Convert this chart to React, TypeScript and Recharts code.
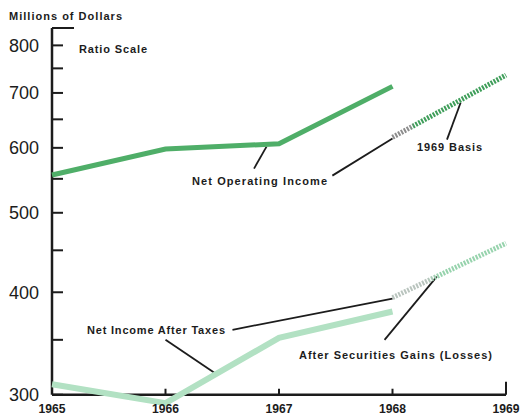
import { LineChart, Line, XAxis, YAxis, ReferenceLine } from 'recharts';

const WIDTH = 520;
const HEIGHT = 418;
const MARGIN = { top: 28, right: 14, bottom: 0, left: 0 };
const X_AXIS_HEIGHT = 5;

// ratio scale: 300 sits on the baseline, a little room below it for the 1966 dip
const Y_LOW = 285;
const Y_BASE = 300;
const Y_TOP = 840;

const years = [1965, 1966, 1967, 1968, 1969];
const netOperatingIncome = [556, 598, 607, 713, null];
const operatingIncome1969Basis = [null, null, null, 618, 736];
const netIncomeAfterTaxes = [309, 293, 352, 379, null];
const afterSecuritiesGains = [null, null, null, 394, 459];

const yTicks = [300, 350, 400, 450, 500, 550, 600, 650, 700, 750, 800, 840];
const yLabels = [300, 400, 500, 600, 700, 800];
const xTickLength: Record<number, number> = { 1965: 0, 1966: 6, 1967: 6, 1968: 6, 1969: 13 };

// leader lines from the captions to the curves, in [year, value] pairs
const leaders: [number, number][][] = [
  [[1966.78, 566], [1966.89, 602]],
  [[1967.47, 555], [1968.0, 616]],
  [[1968.48, 614], [1968.6, 681]],
  [[1966.59, 360], [1968.0, 393]],
  [[1966.0, 350], [1966.46, 317]],
  [[1967.93, 350], [1968.39, 418]],
];

const captions = [
  { text: 'Millions of Dollars', x: 9, y: 20, width: 113 },
  { text: 'Ratio Scale', x: 79, y: 53, width: 68 },
  { text: 'Net Operating Income', x: 192, y: 185, width: 135 },
  { text: '1969 Basis', x: 417, y: 151, width: 65 },
  { text: 'Net Income After Taxes', x: 87, y: 334, width: 138 },
  { text: 'After Securities Gains (Losses)', x: 299, y: 359, width: 193 },
];

const chartData = years.map((year, i) => ({
  year,
  netOperatingIncome: netOperatingIncome[i],
  operatingIncome1969Basis: operatingIncome1969Basis[i],
  netIncomeAfterTaxes: netIncomeAfterTaxes[i],
  afterSecuritiesGains: afterSecuritiesGains[i],
}));

const INK = '#1c1c1c';
const FONT = "'Liberation Sans', Arial, sans-serif";
const PLOT_H = HEIGHT - MARGIN.top - MARGIN.bottom - X_AXIS_HEIGHT;
const BASE_OFFSET = (PLOT_H * Math.log(Y_BASE / Y_LOW)) / Math.log(Y_TOP / Y_LOW);

function ValueTick(props: any) {
  const { x, y, payload } = props;
  const isTop = payload.value === Y_TOP;
  return (
    <g>
      <line x1={x} y1={y} x2={x + (isTop ? 22 : 11)} y2={y} stroke={INK} strokeWidth={2} />
      {yLabels.includes(payload.value) && (
        <text x={x - 13} y={y} dy="0.36em" textAnchor="end" fontSize={18} fill={INK} fontFamily={FONT}>
          {payload.value}
        </text>
      )}
    </g>
  );
}

function YearTick(props: any) {
  const { x, y, payload } = props;
  const base = y - BASE_OFFSET;
  const len = xTickLength[payload.value] ?? 0;
  return (
    <g>
      {len > 0 && <line x1={x} y1={base} x2={x} y2={base - len} stroke={INK} strokeWidth={2} />}
      <text x={x} y={base + 18} textAnchor="middle" fontSize={12} fontWeight="bold" fill={INK}
        textLength={27} lengthAdjust="spacingAndGlyphs" fontFamily={FONT}>
        {payload.value}
      </text>
    </g>
  );
}

export default function App() {
  return (
    <div style={{ position: 'absolute', left: 0, top: 0, width: WIDTH, height: HEIGHT, background: '#fff' }}>
      <LineChart width={WIDTH} height={HEIGHT} data={chartData} margin={MARGIN}>
        <defs>
          <linearGradient id="basisStroke" x1="0" y1="0" x2="1" y2="0">
            <stop offset="0" stopColor="#8d8d8d" />
            <stop offset="0.16" stopColor="#8d8d8d" />
            <stop offset="0.19" stopColor="#3f9e5a" />
            <stop offset="1" stopColor="#3f9e5a" />
          </linearGradient>
          <linearGradient id="afterSecStroke" x1="0" y1="0" x2="1" y2="0">
            <stop offset="0" stopColor="#b9c4be" />
            <stop offset="0.3" stopColor="#b9c4be" />
            <stop offset="0.4" stopColor="#97d3ad" />
            <stop offset="1" stopColor="#97d3ad" />
          </linearGradient>
        </defs>
        <XAxis
          dataKey="year"
          type="number"
          domain={[1965, 1969]}
          ticks={years}
          interval={0}
          height={X_AXIS_HEIGHT}
          axisLine={false}
          tickLine={false}
          tickSize={0}
          tickMargin={0}
          tick={<YearTick />}
        />
        <YAxis
          scale="log"
          type="number"
          domain={[Y_LOW, Y_TOP]}
          ticks={yTicks}
          interval={0}
          width={52}
          axisLine={false}
          tickLine={false}
          tickSize={0}
          tickMargin={0}
          tick={<ValueTick />}
        />
        <ReferenceLine
          segment={[{ x: 1965, y: Y_BASE }, { x: 1965, y: Y_TOP }]}
          stroke={INK}
          strokeWidth={2.5}
          ifOverflow="visible"
        />
        <ReferenceLine
          segment={[{ x: 1965, y: Y_BASE }, { x: 1969, y: Y_BASE }]}
          stroke={INK}
          strokeWidth={2.5}
          ifOverflow="visible"
        />
        {leaders.map((seg, i) => (
          <ReferenceLine
            key={i}
            segment={seg.map(([x, y]) => ({ x, y }))}
            stroke={INK}
            strokeWidth={1.8}
            ifOverflow="visible"
          />
        ))}
        <Line dataKey="netIncomeAfterTaxes" stroke="#b2e1c3" strokeWidth={6} dot={false}
          activeDot={false} isAnimationActive={false} />
        <Line dataKey="afterSecuritiesGains" stroke="url(#afterSecStroke)" strokeWidth={5}
          strokeDasharray="2 1.3" dot={false} activeDot={false} isAnimationActive={false} />
        <Line dataKey="netOperatingIncome" stroke="#4fae68" strokeWidth={5} dot={false}
          activeDot={false} isAnimationActive={false} />
        <Line dataKey="operatingIncome1969Basis" stroke="url(#basisStroke)" strokeWidth={5}
          strokeDasharray="2 1.3" dot={false} activeDot={false} isAnimationActive={false} />
        {captions.map((c) => (
          <text key={c.text} x={c.x} y={c.y} fontSize={11} fontWeight="bold" fill={INK}
            textLength={c.width} lengthAdjust="spacing" fontFamily={FONT}>
            {c.text}
          </text>
        ))}
      </LineChart>
    </div>
  );
}
